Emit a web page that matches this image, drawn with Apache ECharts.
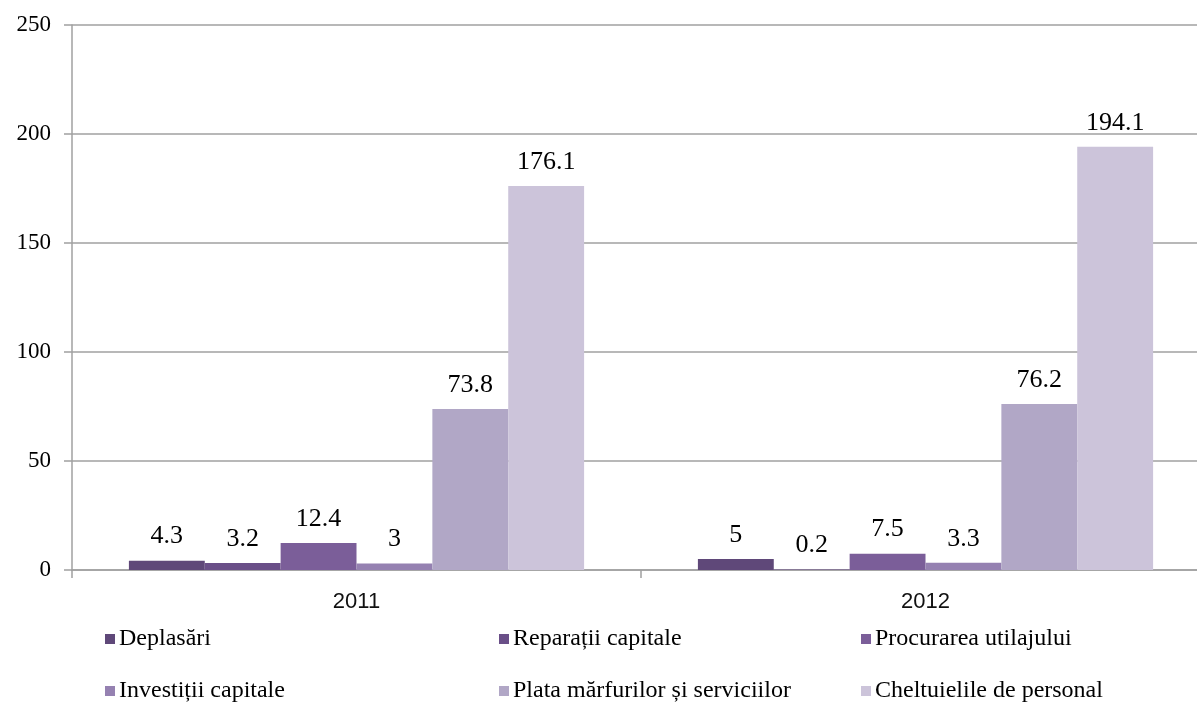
<!DOCTYPE html>
<html><head><meta charset="utf-8">
<script src="https://cdn.jsdelivr.net/npm/echarts@6/dist/echarts.min.js"></script>
<style>html,body{margin:0;padding:0;background:#fff;overflow:hidden}#c{width:1210px;height:704px}</style>
</head><body><div id="c"></div>
<script>
const categories = ['2011', '2012'];
const seriesNames = ['Deplasări', 'Reparații capitale', 'Procurarea utilajului', 'Investiții capitale', 'Plata mărfurilor și serviciilor', 'Cheltuielile de personal'];
const deplasari = [4.3, 5];
const reparatii = [3.2, 0.2];
const procurarea = [12.4, 7.5];
const investitii = [3, 3.3];
const plata = [73.8, 76.2];
const cheltuieli = [176.1, 194.1];
const yTicks = [0, 50, 100, 150, 200, 250];

const values = [deplasari, reparatii, procurarea, investitii, plata, cheltuieli];
const colors = ['#5F4879', '#6A4F88', '#7B5E99', '#9581B1', '#B1A7C6', '#CCC4DA'];
const font = '"Liberation Serif", "Times New Roman", serif';

const legendPos = [[105, 627], [499, 627], [861, 627], [105, 679], [499, 679], [861, 679]];
const legends = seriesNames.map((n, i) => ({
  data: [n], left: legendPos[i][0], top: legendPos[i][1],
  itemWidth: 10, itemHeight: 10, itemGap: 2, icon: 'rect',
  textStyle: {fontFamily: font, fontSize: 24, color: '#000', padding: [0,0,0,-1]},
  padding: 0, selectedMode: false
}));

const chart = echarts.init(document.getElementById('c'));
chart.setOption({
  animation: false,
  color: colors,
  grid: {left: 72, right: 0, top: 25, bottom: 134, containLabel: false},
  legend: legends,
  xAxis: {
    type: 'category', data: categories,
    axisLine: {lineStyle: {color: '#A0A0A0', width: 1.5}},
    axisTick: {show: true, length: 8, lineStyle: {color: '#A0A0A0', width: 1.5}},
    axisLabel: {fontFamily: '"Liberation Sans", Arial, sans-serif', fontSize: 22, color: '#111', margin: 21}
  },
  yAxis: {
    type: 'value', min: 0, max: 250, interval: 50,
    axisLine: {show: true, lineStyle: {color: '#A0A0A0', width: 1.5}},
    axisTick: {show: true, length: 8, lineStyle: {color: '#A0A0A0', width: 1.5}},
    splitLine: {lineStyle: {color: '#A0A0A0', width: 1.5}},
    axisLabel: {fontFamily: font, fontSize: 23, color: '#000', margin: 21,
      formatter: v => yTicks.includes(v) ? String(v) : ''}
  },
  series: seriesNames.map((n, i) => ({
    name: n, type: 'bar', data: values[i],
    barGap: '0%', barCategoryGap: '20%',
    label: {show: true, position: 'top', distance: 11, fontFamily: font, fontSize: 26, color: '#000'}
  }))
});
</script>
</body></html>
